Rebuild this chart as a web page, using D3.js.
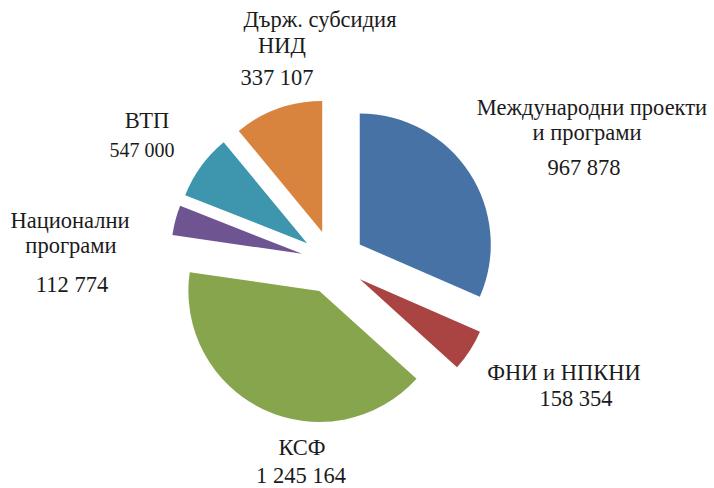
<!DOCTYPE html>
<html>
<head>
<meta charset="utf-8">
<script src="https://cdn.jsdelivr.net/npm/d3@7"></script>
<style>
  body { margin: 0; background: #fff; }
</style>
</head>
<body>
<div id="chart"></div>
<script>
// categories, clockwise from 12 o'clock
const categories = ["Международни проекти и програми", "ФНИ и НПКНИ", "КСФ", "Национални програми", "ВТП", "Държ. субсидия НИД"];
// slice sizes as drawn (the ВТП slice is drawn as 247 000 although its label reads 547 000)
const values = [967878, 158354, 1245164, 112774, 247000, 337107];
// value labels as printed on the chart
const valueLabels = ["967 878", "158 354", "1 245 164", "112 774", "547 000", "337 107"];
const colors = ["#4672a6", "#a94442", "#87a54c", "#6e5591", "#3d96ae", "#d9843e"];

const width = 714, height = 488;
const cx = 333, cy = 262, radius = 131, explode = 32;
const serif = "Liberation Serif";

// hand placed label lines (Excel style), [text, x, baseline]
const labelLayout = [
  [["Международни проекти", 592, 115], ["и програми", 587, 140], [valueLabels[0], 584, 175]],
  [["ФНИ и НПКНИ", 564, 380], [valueLabels[1], 576, 406]],
  [["КСФ", 302, 455], [valueLabels[2], 301, 483]],
  [["Национални", 70, 228], ["програми", 71, 253], [valueLabels[3], 72, 292]],
  [["ВТП", 147, 128], [valueLabels[4], 142, 157, "small"]],
  [["Държ. субсидия", 320, 27], ["НИД", 282, 53], [valueLabels[5], 277, 85]]
];

const svg = d3.select("#chart").append("svg")
    .attr("width", width)
    .attr("height", height);

const pie = d3.pie().sort(null).value(d => d)
const arcs = pie(values);

const arc = d3.arc().innerRadius(0).outerRadius(radius);

const g = svg.append("g").attr("transform", "translate(" + cx + "," + cy + ")");

g.selectAll("path.slice")
    .data(arcs)
    .enter().append("path")
    .attr("class", "slice")
    .attr("d", arc)
    .attr("fill", (d, i) => colors[i])
    .attr("transform", d => {
        const mid = (d.startAngle + d.endAngle) / 2;
        return "translate(" + (Math.sin(mid) * explode) + "," + (-Math.cos(mid) * explode) + ")";
    });

const labels = svg.append("g").attr("class", "labels");

labelLayout.forEach((lines, i) => {
    lines.forEach(l => {
        labels.append("text")
            .attr("x", l[1])
            .attr("y", l[2])
            .attr("text-anchor", "middle")
            .attr("font-family", serif)
            .attr("font-size", l[3] === "small" ? "20px" : "22.5px")
            .attr("fill", "#1b1b1b")
            .text(l[0]);
    });
});
</script>
</body>
</html>
